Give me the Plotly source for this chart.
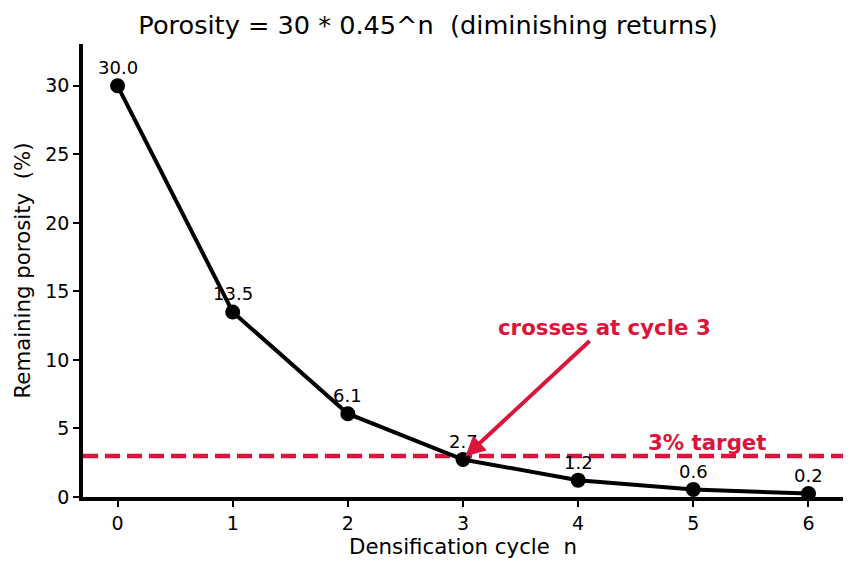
import plotly.graph_objects as go

cycles = [0, 1, 2, 3, 4, 5, 6]
porosity = [30.0, 13.5, 6.075, 2.734, 1.230, 0.554, 0.249]
point_labels = ["30.0", "13.5", "6.1", "2.7", "1.2", "0.6", "0.2"]
target = 3.0
RED = "#DC143C"

fig = go.Figure()
fig.add_trace(go.Scatter(x=[-0.3, 6.3], y=[target, target], mode="lines",
                         line=dict(color=RED, width=4.5, dash="15px,7px"),
                         hoverinfo="skip", showlegend=False))
fig.add_trace(go.Scatter(x=cycles, y=porosity, mode="lines+markers",
                         line=dict(color="black", width=4),
                         marker=dict(color="black", size=15),
                         showlegend=False))

for xv, yv, t in zip(cycles, porosity, point_labels):
    fig.add_annotation(x=xv, y=yv, text=t, showarrow=False, yshift=18,
                       font=dict(family="DejaVu Sans", size=18, color="black"))

fig.add_annotation(x=3.02, y=2.95, ax=4.23, ay=12.4, axref="x", ayref="y",
                   text="<b>crosses at cycle 3</b>", showarrow=True,
                   arrowhead=2, arrowsize=1.0, arrowwidth=4, arrowcolor=RED,
                   font=dict(family="DejaVu Sans", size=21.3, color=RED))
fig.add_annotation(x=5.12, y=4.0, text="<b>3% target</b>", showarrow=False,
                   font=dict(family="DejaVu Sans", size=21.3, color=RED))

fig.update_layout(
    width=856, height=573,
    margin=dict(l=83, r=13, t=44, b=76),
    plot_bgcolor="white", paper_bgcolor="white",
    font=dict(family="DejaVu Sans", color="black", size=19),
    title=dict(text="Porosity = 30 * 0.45^n  (diminishing returns)",
               x=0.5, xanchor="center", y=0.956, yanchor="middle",
               font=dict(size=25.6)),
    xaxis=dict(range=[-0.3, 6.3], tickvals=cycles, showgrid=False, zeroline=False,
               showline=True, linewidth=3.5, linecolor="black", ticks="outside",
               ticklen=6, tickwidth=1.5, tickcolor="black", tickfont=dict(size=19),
               title=dict(text="Densification cycle  n", font=dict(size=21.3), standoff=6)),
    yaxis=dict(range=[0, 33.05], tickvals=[0, 5, 10, 15, 20, 25, 30], showgrid=False,
               zeroline=False, showline=True, linewidth=3.5, linecolor="black",
               ticks="outside", ticklen=6, tickwidth=1.5, tickcolor="black",
               tickfont=dict(size=19),
               title=dict(text="Remaining porosity  (%)", font=dict(size=21.3), standoff=10)),
)

fig.write_html("out.html")
